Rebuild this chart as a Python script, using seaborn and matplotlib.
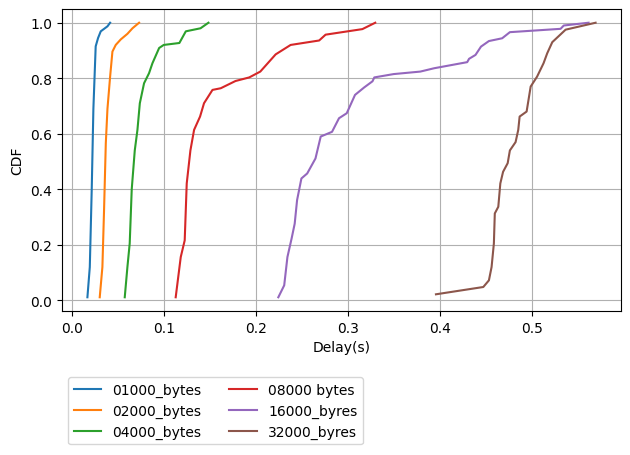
import matplotlib
matplotlib.use("Agg")
import matplotlib.pyplot as plt
import seaborn as sns
import pandas as pd

labels = ["01000_bytes", "02000_bytes", "04000_bytes", "08000 bytes", "16000_byres", "32000_byres"]

x_01000 = [0.017, 0.0196, 0.0217, 0.0235, 0.026, 0.0286, 0.0315, 0.0388, 0.0417]
y_01000 = [0.011, 0.12, 0.40, 0.69, 0.915, 0.945, 0.969, 0.987, 1.0]

x_02000 = [0.0304, 0.0333, 0.0351, 0.037, 0.0388, 0.0417, 0.0442, 0.0478, 0.0533, 0.0605, 0.066, 0.0732]
y_02000 = [0.011, 0.12, 0.325, 0.566, 0.69, 0.806, 0.896, 0.92, 0.94, 0.96, 0.98, 1.0]

x_04000 = [0.0576, 0.0605, 0.063, 0.0652, 0.0685, 0.0714, 0.074, 0.0786, 0.084, 0.0877, 0.095, 0.1,
           0.117, 0.124, 0.140, 0.1486]
y_04000 = [0.011, 0.12, 0.205, 0.40, 0.54, 0.614, 0.71, 0.782, 0.818, 0.854, 0.909, 0.92,
           0.927, 0.969, 0.98, 1.0]

x_08000 = [0.113, 0.1185, 0.1228, 0.125, 0.129, 0.133, 0.1395, 0.1438, 0.153, 0.162, 0.178, 0.193,
           0.205, 0.2217, 0.238, 0.269, 0.276, 0.316, 0.33]
y_08000 = [0.011, 0.156, 0.216, 0.421, 0.54, 0.614, 0.662, 0.71, 0.758, 0.764, 0.79, 0.803,
           0.824, 0.886, 0.92, 0.936, 0.957, 0.977, 1.0]

x_16000 = [0.2246, 0.231, 0.2345, 0.239, 0.2424, 0.245, 0.2497, 0.256, 0.265, 0.2707, 0.283, 0.2906,
           0.299, 0.308, 0.318, 0.327, 0.329, 0.350, 0.379, 0.394, 0.430, 0.432, 0.439, 0.445,
           0.4536, 0.468, 0.4764, 0.5315, 0.535, 0.562]
y_16000 = [0.011, 0.054, 0.156, 0.222, 0.276, 0.361, 0.439, 0.457, 0.511, 0.59, 0.607, 0.656,
           0.674, 0.74, 0.767, 0.789, 0.803, 0.815, 0.824, 0.836, 0.858, 0.87, 0.884, 0.914,
           0.934, 0.944, 0.966, 0.978, 0.99, 1.0]

x_32000 = [0.396, 0.4475, 0.4536, 0.4565, 0.459, 0.46, 0.4638, 0.466, 0.469, 0.474, 0.4764, 0.4826,
           0.4855, 0.487, 0.4946, 0.499, 0.506, 0.513, 0.517, 0.5225, 0.537, 0.5696]
y_32000 = [0.0217, 0.048, 0.072, 0.12, 0.205, 0.313, 0.337, 0.421, 0.463, 0.494, 0.54, 0.57,
           0.614, 0.662, 0.68, 0.77, 0.806, 0.854, 0.89, 0.93, 0.975, 1.0]

xs = [x_01000, x_02000, x_04000, x_08000, x_16000, x_32000]
ys = [y_01000, y_02000, y_04000, y_08000, y_16000, y_32000]

frames = []
for lab, xv, yv in zip(labels, xs, ys):
    frames.append(pd.DataFrame({"Delay": xv, "CDF": yv, "series": lab}))
df = pd.concat(frames, ignore_index=True)

fig = plt.figure(figsize=(6.3, 4.56), dpi=100)
ax = fig.add_axes([62 / 630, 1 - 312 / 456, (621 - 62) / 630, (312 - 10) / 456])
sns.lineplot(data=df, x="Delay", y="CDF", hue="series", hue_order=labels,
             palette="tab10", estimator=None, sort=False, ax=ax, linewidth=1.5)
ax.grid(True, color="#b0b0b0", linewidth=0.8)
ax.set_xlabel("Delay(s)")
ax.set_ylabel("CDF")
handles, labs = ax.get_legend_handles_labels()
ax.get_legend().remove()
fig.legend(handles, labs, ncol=2, loc="upper left",
           bbox_to_anchor=(68 / 630, 1 - 378 / 456), borderaxespad=0)
fig.savefig("out.png", dpi=100)
